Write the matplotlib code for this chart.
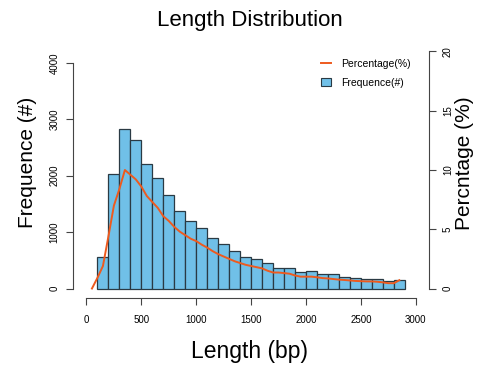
import numpy as np
import matplotlib
matplotlib.use("Agg")
import matplotlib.pyplot as plt
from matplotlib.lines import Line2D
from matplotlib.patches import Patch

plt.rcParams['font.family'] = ['Liberation Sans', 'DejaVu Sans']

# histogram bins (left edges, width 100) and counts
bin_starts = [100, 200, 300, 400, 500, 600, 700, 800, 900, 1000,
              1100, 1200, 1300, 1400, 1500, 1600, 1700, 1800, 1900, 2000,
              2100, 2200, 2300, 2400, 2500, 2600, 2700, 2800]
counts = [565, 2035, 2829, 2635, 2212, 1959, 1653, 1376, 1200, 1071,
          894, 782, 671, 565, 524, 453, 371, 371, 300, 318,
          253, 253, 212, 188, 165, 165, 135, 153]

# percentage curve
pct_x = [50, 100, 150, 200, 250, 300, 350, 400, 450, 500,
         550, 600, 650, 700, 750, 800, 850, 900, 950, 1000,
         1050, 1100, 1150, 1200, 1250, 1300, 1350, 1400, 1450, 1500,
         1550, 1600, 1650, 1700, 1750, 1800, 1850, 1900, 1950, 2000,
         2050, 2100, 2150, 2200, 2250, 2300, 2350, 2400, 2450, 2500,
         2550, 2600, 2650, 2700, 2750, 2800, 2850]
pct_y = [0.0, 0.9, 1.9, 4.4, 7.0, 8.4, 10.0, 9.6, 9.2, 8.6,
         7.8, 7.3, 6.8, 6.1, 5.7, 5.2, 4.8, 4.5, 4.2, 4.0,
         3.7, 3.45, 3.15, 2.9, 2.7, 2.5, 2.3, 2.15, 2.0, 1.9,
         1.8, 1.7, 1.5, 1.35, 1.35, 1.3, 1.25, 1.1, 1.0, 1.0,
         1.0, 0.95, 0.88, 0.85, 0.8, 0.75, 0.72, 0.68, 0.64, 0.62,
         0.6, 0.6, 0.57, 0.52, 0.45, 0.45, 0.7]

bar_color = "#70C0E8"
line_color = "#EE5A1E"
axis_color = "#444444"

fig = plt.figure(figsize=(4.86, 3.70), dpi=100)
ax = fig.add_axes([0.1508, 0.1946, 0.8827 - 0.1508, 0.8865 - 0.1946])

ax.bar(bin_starts, counts, width=100, align="edge", color=bar_color,
       edgecolor="#2a3a44", linewidth=0.9)
ax.set_xlim(-120, 3120)
ax.set_ylim(-168, 4368)

for s in ["top", "right"]:
    ax.spines[s].set_visible(False)
ax.spines["left"].set_bounds(0, 4000)
ax.spines["bottom"].set_bounds(0, 3000)
for s in ["left", "bottom"]:
    ax.spines[s].set_color(axis_color)
    ax.spines[s].set_linewidth(0.8)

ax.set_xticks(np.arange(0, 3001, 500))
ax.set_yticks(np.arange(0, 4001, 1000))
ax.tick_params(axis="both", direction="out", length=5, width=0.8,
               color=axis_color, labelsize=7)
ax.tick_params(axis="x", pad=7)
ax.tick_params(axis="y", pad=5)
plt.setp(ax.get_yticklabels(), rotation=90, va="center")

ax2 = ax.twinx()
ax2.plot(pct_x, pct_y, color=line_color, linewidth=1.4)
ax2.set_ylim(-0.8, 20.8)
for s in ["top", "left", "bottom"]:
    ax2.spines[s].set_visible(False)
ax2.spines["right"].set_bounds(0, 20)
ax2.spines["right"].set_color(axis_color)
ax2.spines["right"].set_linewidth(0.8)
ax2.set_yticks(np.arange(0, 21, 5))
ax2.tick_params(axis="y", direction="out", length=5, width=0.8,
                color=axis_color, labelsize=7, pad=5)
plt.setp(ax2.get_yticklabels(), rotation=90, va="center")

fig.text(0.515, 0.945, "Length Distribution", ha="center", va="center", fontsize=16)
fig.text(0.513, 0.049, "Length (bp)", ha="center", va="center", fontsize=16.5)
fig.text(0.057, 0.56, "Frequence (#)", ha="center", va="center", rotation=90, fontsize=15)
fig.text(0.955, 0.56, "Percntage (%)", ha="center", va="center", rotation=90, fontsize=15)

handles = [Line2D([0], [0], color=line_color, linewidth=1.4),
           Patch(facecolor=bar_color, edgecolor="#2a3a44", linewidth=0.8)]
ax2.legend(handles, ["Percentage(%)", "Frequence(#)"], loc="upper right",
           bbox_to_anchor=(0.975, 0.972), frameon=False, fontsize=7.5,
           handlelength=0.9, handleheight=0.8, handletextpad=1.0, labelspacing=0.9)

fig.savefig("out.png", dpi=100)
